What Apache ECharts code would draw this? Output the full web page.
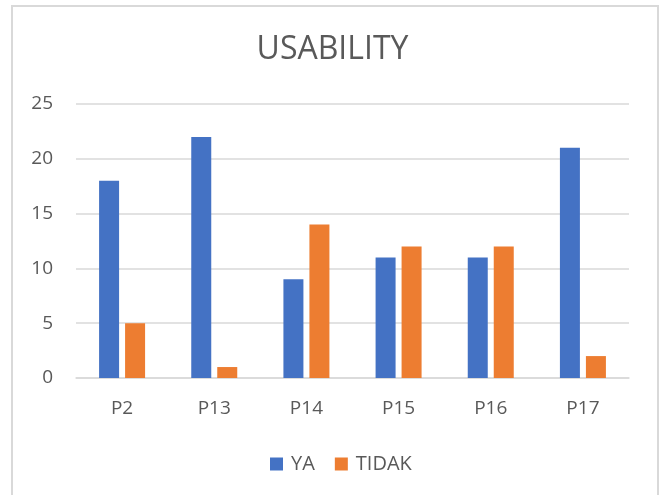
<!DOCTYPE html>
<html>
<head>
<meta charset="utf-8">
<script src="https://cdn.jsdelivr.net/npm/echarts@6/dist/echarts.min.js"></script>
<style>
  html, body { margin: 0; padding: 0; background: #fff; }
  #chart { width: 665px; height: 495px; }
</style>
</head>
<body>
<div id="chart"></div>
<script>
// data
const categories = ['P2', 'P13', 'P14', 'P15', 'P16', 'P17'];
const yaValues = [18, 22, 9, 11, 11, 21];
const tidakValues = [5, 1, 14, 12, 12, 2];

const chart = echarts.init(document.getElementById('chart'));
const textColor = '#595959';
const font = '"Open Sans", "Noto Sans", sans-serif';

chart.setOption({
  animation: false,
  title: {
    text: 'USABILITY',
    left: 'center',
    top: 29,
    textStyle: {
      color: textColor,
      fontFamily: font,
      fontSize: 32,
      fontWeight: 'normal'
    }
  },
  graphic: [{
    type: 'rect',
    shape: { x: 12, y: 6, width: 646, height: 500 },
    style: { fill: 'none', stroke: '#d9d9d9', lineWidth: 2 },
    silent: true
  }],
  legend: {
    bottom: 21,
    left: 270,
    padding: 0,
    itemWidth: 13,
    itemHeight: 13,
    itemGap: 20,
    icon: 'rect',
    textStyle: { color: textColor, fontFamily: font, fontSize: 20, padding: [0, 0, 0, 3] },
    data: ['YA', 'TIDAK']
  },
  grid: {
    left: 76,
    right: 36,
    top: 104,
    bottom: 117
  },
  xAxis: {
    type: 'category',
    data: categories,
    axisLine: { lineStyle: { color: '#d9d9d9', width: 1.5 } },
    axisTick: { show: false },
    axisLabel: {
      color: textColor,
      fontFamily: font,
      fontSize: 19,
      margin: 21
    }
  },
  yAxis: {
    type: 'value',
    min: 0,
    max: 25,
    interval: 5,
    axisLine: { show: false },
    axisTick: { show: false },
    splitLine: { lineStyle: { color: '#d9d9d9', width: 1.5 } },
    axisLabel: {
      color: textColor,
      fontFamily: font,
      fontSize: 19,
      margin: 23
    }
  },
  series: [
    {
      name: 'YA',
      type: 'bar',
      data: yaValues,
      barWidth: 20,
      barGap: '30%',
      itemStyle: { color: '#4472C4' }
    },
    {
      name: 'TIDAK',
      type: 'bar',
      data: tidakValues,
      barWidth: 20,
      itemStyle: { color: '#ED7D31' }
    }
  ]
});
</script>
</body>
</html>
